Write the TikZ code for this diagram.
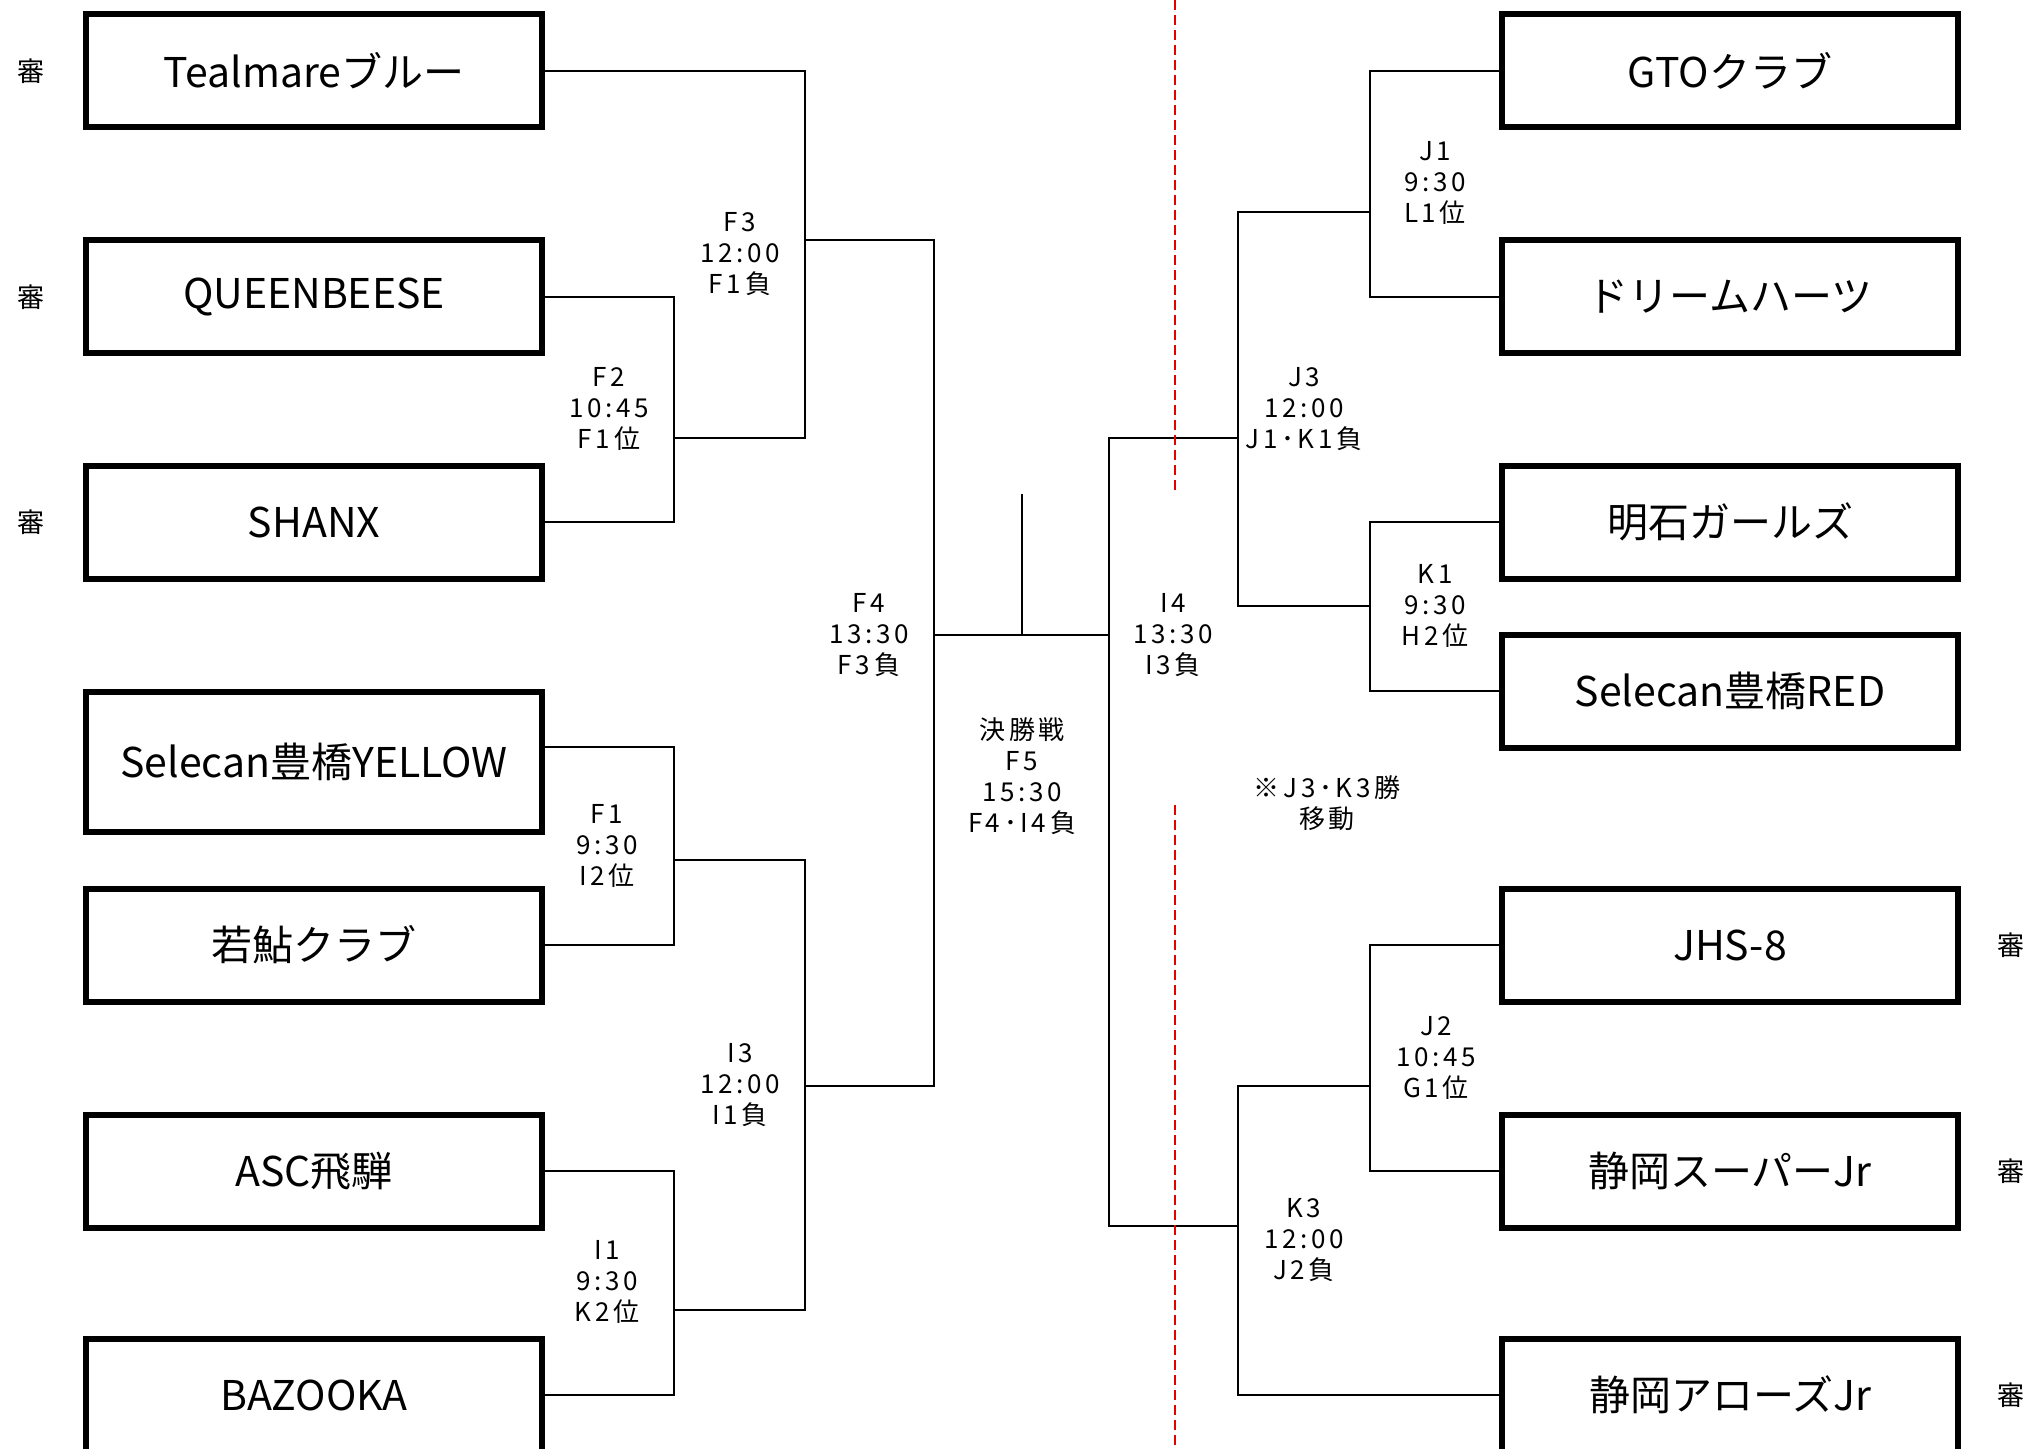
\documentclass[tikz,border=0pt]{standalone}
\usepackage{fontspec}
\setmainfont{Noto Sans CJK JP}
\newfontfamily\lab[LetterSpace=14]{Noto Sans CJK JP}
\begin{document}
\begin{tikzpicture}[x=0.5pt,y=-0.5pt,
  team/.style={draw, line width=3pt, minimum width=228pt, minimum height=56.5pt, inner sep=0pt, font=\fontsize{20.5}{24}\selectfont},
  lbl/.style={align=center, inner sep=0pt, font=\lab\fontsize{13}{15.5}\selectfont},
  conn/.style={line width=1.3pt},
  refe/.style={inner sep=0pt, font=\fontsize{13.5}{16}\selectfont},
  divider/.style={red!90!black, line width=0.9pt, dash pattern=on 5pt off 2.5pt}]
\useasboundingbox (0,0) rectangle (2033,1449);
\clip (0,0) rectangle (2033,1449);
\fill[white] (0,0) rectangle (2033,1449);

% junctions
\coordinate (F2) at (674,438);
\coordinate (F3) at (805,240);
\coordinate (F1) at (674,860);
\coordinate (I1) at (674,1310);
\coordinate (I3) at (805,1086);
\coordinate (F4) at (934,635);
\coordinate (I4) at (1109,635);
\coordinate (F5) at (1022,494);
\coordinate (J1) at (1370,212);
\coordinate (K1) at (1370,606);
\coordinate (J3) at (1238,438);
\coordinate (J2) at (1370,1086);
\coordinate (K3) at (1238,1226);
\coordinate (rA) at (1175,0);
\coordinate (rB) at (1175,494);
\coordinate (rC) at (1175,805);
\coordinate (rD) at (1175,1449);

% teams left
\node[team] (t1) at (314,71) {Tealmareブルー};
\node[team] (t2) at (314,297) {QUEENBEESE};
\node[team] (t3) at (314,522) {SHANX};
\node[team, minimum height=70pt] (t4) at (314,762) {Selecan豊橋YELLOW};
\node[team] (t5) at (314,945) {若鮎クラブ};
\node[team] (t6) at (314,1171) {ASC飛騨};
\node[team] (t7) at (314,1395) {BAZOOKA};
% teams right
\node[team] (r1) at (1730,71) {GTOクラブ};
\node[team] (r2) at (1730,297) {ドリームハーツ};
\node[team] (r3) at (1730,522) {明石ガールズ};
\node[team] (r4) at (1730,691) {Selecan豊橋RED};
\node[team] (r5) at (1730,945) {JHS-8};
\node[team] (r6) at (1730,1171) {静岡スーパーJr};
\node[team] (r7) at (1730,1395) {静岡アローズJr};

% referee marks
\node[refe] (s1) at (31,71) {審};
\node[refe] (s2) at (31,297) {審};
\node[refe] (s3) at (31,522) {審};
\node[refe] (s4) at (2011,945) {審};
\node[refe] (s5) at (2011,1171) {審};
\node[refe] (s6) at (2011,1395) {審};

% connectors left
\draw[conn] (t1.east) -| (F3);
\draw[conn] (t2.east) -| (F2);
\draw[conn] (t3.east) -| (F2);
\draw[conn] (F2) -| (F3);
\draw[conn] ([yshift=7.5pt]t4.east) -| (F1);
\draw[conn] (t5.east) -| (F1);
\draw[conn] (t6.east) -| (I1);
\draw[conn] (t7.east) -| (I1);
\draw[conn] (F1) -| (I3);
\draw[conn] (I1) -| (I3);
\draw[conn] (F3) -| (F4);
\draw[conn] (I3) -| (F4);
\draw[conn] (F4) -- (I4);
\draw[conn] (F5) -- (F5 |- F4);
% connectors right
\draw[conn] (r1.west) -| (J1);
\draw[conn] (r2.west) -| (J1);
\draw[conn] (r3.west) -| (K1);
\draw[conn] (r4.west) -| (K1);
\draw[conn] (r5.west) -| (J2);
\draw[conn] (r6.west) -| (J2);
\draw[conn] (r7.west) -| (K3);
\draw[conn] (J1) -| (J3);
\draw[conn] (K1) -| (J3);
\draw[conn] (J2) -| (K3);
\draw[conn] (J3) -| (I4);
\draw[conn] (K3) -| (I4);

% divider
\draw[divider] (rA) -- (rB);
\draw[divider] (rC) -- (rD);

% match labels
\node[lbl] (lF3) at (740,254) {F3\\12:00\\F1負};
\node[lbl] (lF2) at (609,409) {F2\\10:45\\F1位};
\node[lbl] (lF4) at (869,635) {F4\\13:30\\F3負};
\node[lbl] (lF1) at (607,846) {F1\\9:30\\I2位};
\node[lbl] (lI3) at (740,1085) {I3\\12:00\\I1負};
\node[lbl] (lI1) at (607,1282) {I1\\9:30\\K2位};
\node[lbl] (lF5) at (1022,776) {決勝戦\\F5\\15:30\\F4･I4負};
\node[lbl] (lI4) at (1173,635) {I4\\13:30\\I3負};
\node[lbl] (lJ1) at (1435,183) {J1\\9:30\\L1位};
\node[lbl] (lJ3) at (1304,409) {J3\\12:00\\J1･K1負};
\node[lbl] (lK1) at (1435,606) {K1\\9:30\\H2位};
\node[lbl] (lnote) at (1327,803) {※J3･K3勝\\移動};
\node[lbl] (lJ2) at (1436,1058) {J2\\10:45\\G1位};
\node[lbl] (lK3) at (1304,1240) {K3\\12:00\\J2負};
\end{tikzpicture}
\end{document}
